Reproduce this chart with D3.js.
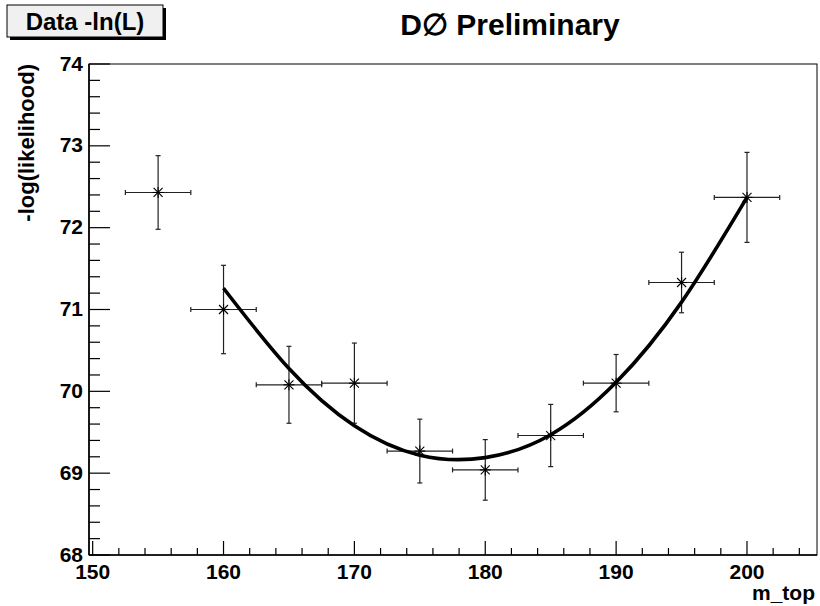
<!DOCTYPE html>
<html>
<head>
<meta charset="utf-8">
<script src="https://cdn.jsdelivr.net/npm/d3@7"></script>
<style>
  body { margin: 0; background: #fff; }
  svg { display: block; }
  text { font-family: "Liberation Sans", Arial, Helvetica, sans-serif; font-weight: bold; fill: #000; }
</style>
</head>
<body>
<div id="chart"></div>
<script>
// data
var massPoints = [155, 160, 165, 170, 175, 180, 185, 190, 195, 200];
var massErrors = [2.5, 2.5, 2.5, 2.5, 2.5, 2.5, 2.5, 2.5, 2.5, 2.5];
var nllValues  = [72.43, 71.00, 70.08, 70.10, 69.27, 69.04, 69.46, 70.10, 71.33, 72.37];
var nllErrors  = [0.45, 0.54, 0.47, 0.49, 0.39, 0.37, 0.38, 0.35, 0.37, 0.55];

// fitted curve, read at a few masses
var fitMass   = [160, 165, 170, 175, 180, 185, 190, 195, 200];
var fitValues = [71.26, 70.28, 69.58, 69.22, 69.19, 69.47, 70.11, 71.09, 72.37];

var xTicks = [150, 160, 170, 180, 190, 200];
var yTicks = [68, 69, 70, 71, 72, 73, 74];

var W = 820, H = 606;
var margin = {top: 64, right: 3, bottom: 51, left: 89};

var svg = d3.select("#chart").append("svg")
  .attr("width", W)
  .attr("height", H);

var x = d3.scaleLinear().domain([149.72, 205.35]).range([margin.left, W - margin.right]);
var y = d3.scaleLinear().domain([68, 74]).range([H - margin.bottom, margin.top]);

// frame
svg.append("rect")
  .attr("x", x.range()[0]).attr("y", y.range()[1])
  .attr("width", x.range()[1] - x.range()[0])
  .attr("height", y.range()[0] - y.range()[1])
  .attr("fill", "none").attr("stroke", "#000").attr("stroke-width", 1);

// x axis
var xAxis = svg.append("g").attr("transform", "translate(0," + y(68) + ")");
xAxis.append("line")
  .attr("x1", x.range()[0]).attr("x2", x.range()[1])
  .attr("stroke", "#000").attr("stroke-width", 1.6);
var xMinor = d3.range(150, 205.4, 2);
xAxis.selectAll(".xminor").data(xMinor).enter().append("line")
  .attr("x1", function(d){ return x(d); }).attr("x2", function(d){ return x(d); })
  .attr("y1", 0)
  .attr("y2", function(d){ return xTicks.indexOf(d) >= 0 ? -14 : -7; })
  .attr("stroke", "#000").attr("stroke-width", 1.2);
xAxis.selectAll(".xlab").data(xTicks).enter().append("text")
  .attr("x", function(d){ return x(d); })
  .attr("y", 24)
  .attr("text-anchor", "middle")
  .attr("font-size", 21)
  .text(function(d){ return d; });

// y axis
var yAxis = svg.append("g").attr("transform", "translate(" + x.range()[0] + ",0)");
yAxis.append("line")
  .attr("y1", y.range()[0]).attr("y2", y.range()[1])
  .attr("stroke", "#000").attr("stroke-width", 1.6);
var yMinor = d3.range(0, 31).map(function(i){ return 68 + i * 0.2; });
yAxis.selectAll(".yminor").data(yMinor).enter().append("line")
  .attr("y1", function(d){ return y(d); }).attr("y2", function(d){ return y(d); })
  .attr("x1", 0)
  .attr("x2", function(d, i){ return i % 5 === 0 ? 21 : 11; })
  .attr("stroke", "#000").attr("stroke-width", 1.2);
yAxis.selectAll(".ylab").data(yTicks).enter().append("text")
  .attr("x", -6)
  .attr("y", function(d){ return y(d) + 6.5; })
  .attr("text-anchor", "end")
  .attr("font-size", 21)
  .text(function(d){ return d; });

// axis titles
svg.append("text")
  .attr("transform", "translate(34," + margin.top + ") rotate(-90)")
  .attr("text-anchor", "end")
  .attr("font-size", 22)
  .text("-log(likelihood)");
svg.append("text")
  .attr("x", W - 5).attr("y", 600)
  .attr("text-anchor", "end")
  .attr("font-size", 21)
  .text("m_top");

// error bars
var pts = massPoints.map(function(m, i){
  return {m: m, dm: massErrors[i], v: nllValues[i], dv: nllErrors[i]};
});
var bars = svg.append("g").attr("stroke", "#222").attr("stroke-width", 1.2).attr("fill", "none");
var cap = 2.5;
pts.forEach(function(d){
  var cx = x(d.m), cy = y(d.v);
  var x0 = x(d.m - d.dm), x1 = x(d.m + d.dm);
  var y0 = y(d.v - d.dv), y1 = y(d.v + d.dv);
  bars.append("line").attr("x1", x0).attr("x2", x1).attr("y1", cy).attr("y2", cy);
  bars.append("line").attr("x1", cx).attr("x2", cx).attr("y1", y0).attr("y2", y1);
  bars.append("line").attr("x1", x0).attr("x2", x0).attr("y1", cy - cap).attr("y2", cy + cap);
  bars.append("line").attr("x1", x1).attr("x2", x1).attr("y1", cy - cap).attr("y2", cy + cap);
  bars.append("line").attr("x1", cx - cap).attr("x2", cx + cap).attr("y1", y0).attr("y2", y0);
  bars.append("line").attr("x1", cx - cap).attr("x2", cx + cap).attr("y1", y1).attr("y2", y1);
});

// fit curve
var fitLine = d3.line()
  .x(function(d, i){ return x(fitMass[i]); })
  .y(function(d){ return y(d); })
  .curve(d3.curveNatural);
svg.append("path")
  .datum(fitValues)
  .attr("d", fitLine)
  .attr("fill", "none")
  .attr("stroke", "#000")
  .attr("stroke-width", 3.6);

// asterisk markers
var mk = svg.append("g").attr("stroke", "#000").attr("stroke-width", 1.1);
var r = 4.5;
pts.forEach(function(d){
  var cx = x(d.m), cy = y(d.v);
  mk.append("line").attr("x1", cx - r).attr("x2", cx + r).attr("y1", cy - r).attr("y2", cy + r);
  mk.append("line").attr("x1", cx - r).attr("x2", cx + r).attr("y1", cy + r).attr("y2", cy - r);
  mk.append("line").attr("x1", cx - r - 1).attr("x2", cx + r + 1).attr("y1", cy).attr("y2", cy);
  mk.append("line").attr("x1", cx).attr("x2", cx).attr("y1", cy - r - 1).attr("y2", cy + r + 1);
});

// stat box top-left
svg.append("rect").attr("x", 10).attr("y", 8).attr("width", 156).attr("height", 32).attr("fill", "#000");
svg.append("rect").attr("x", 7).attr("y", 5).attr("width", 156).attr("height", 32)
  .attr("fill", "#f0f0f0").attr("stroke", "#000").attr("stroke-width", 1);
svg.append("text")
  .attr("x", 85).attr("y", 30)
  .attr("text-anchor", "middle")
  .attr("font-size", 24)
  .text("Data -ln(L)");

// title
svg.append("text")
  .attr("x", 510).attr("y", 35)
  .attr("text-anchor", "middle")
  .attr("font-size", 30)
  .text("D\u2205 Preliminary");
</script>
</body>
</html>
